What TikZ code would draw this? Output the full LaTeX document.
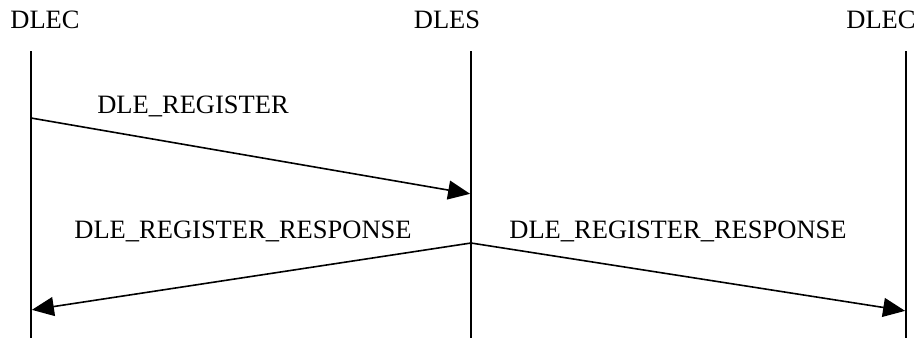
\documentclass[tikz,border=0pt]{standalone}
\usepackage{fontspec}
\setmainfont{Liberation Serif}
\usetikzlibrary{arrows.meta}

\tikzset{
  entity/.style={font=\fontsize{26.5}{30}\selectfont, inner sep=0pt, anchor=base},
  msglabel/.style={font=\fontsize{26.5}{30}\selectfont, inner sep=0pt, anchor=base},
  lifeline/.style={line width=1.8pt},
  msg/.style={line width=1.6pt, -{Triangle[length=22pt,width=19pt]}, shorten >=0.9pt}
}

\begin{document}
\begin{tikzpicture}[x=1pt,y=-1pt]
  \useasboundingbox (0,0) rectangle (919,338);
  % entities
  \node[entity] (clientA) at (45,28) {DLEC};
  \node[entity] (server)  at (447,28) {DLES};
  \node[entity] (clientB) at (881,28) {DLEC};
  % lifelines
  \coordinate (topA) at (31,51);   \coordinate (botA) at (31,338);
  \coordinate (topS) at (471,51);  \coordinate (botS) at (471,338);
  \coordinate (topB) at (906,51);  \coordinate (botB) at (906,338);
  \draw[lifeline] (topA) -- (botA);
  \draw[lifeline] (topS) -- (botS);
  \draw[lifeline] (topB) -- (botB);
  % messages
  \coordinate (regOut) at (31,118);  \coordinate (regIn) at (471,194);
  \coordinate (respOut) at (471,243);
  \coordinate (respA) at (31,310);   \coordinate (respB) at (906,311);
  \draw[msg] (regOut) -- (regIn);
  \draw[msg] (respOut) -- (respA);
  \draw[msg] (respOut) -- (respB);
  \node[msglabel] (regLbl)   at (193,113) {DLE\_REGISTER};
  \node[msglabel] (respLblA) at (243,238) {DLE\_REGISTER\_RESPONSE};
  \node[msglabel] (respLblB) at (678,238) {DLE\_REGISTER\_RESPONSE};
\end{tikzpicture}
\end{document}
